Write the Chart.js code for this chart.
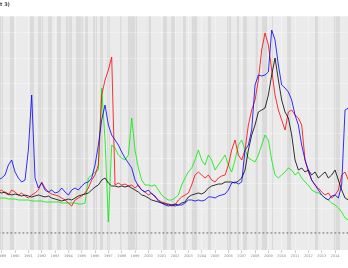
<!DOCTYPE html>
<html>
<head>
<meta charset="utf-8">
<script src="https://cdn.jsdelivr.net/npm/chart.js@4/dist/chart.umd.min.js"></script>
<style>
  body { margin: 0; background: #fff; }
  canvas { display: block; }
</style>
</head>
<body>
<canvas id="chart" width="348" height="268"></canvas>
<script>
// quarterly dates (decimal years)
var dates = [
  1988.75,
  1989, 1989.25, 1989.5, 1989.75, 1990, 1990.25, 1990.5, 1990.75,
  1991, 1991.25, 1991.5, 1991.75, 1992, 1992.25, 1992.5, 1992.75,
  1993, 1993.25, 1993.5, 1993.75, 1994, 1994.25, 1994.5, 1994.75,
  1995, 1995.25, 1995.5, 1995.75, 1996, 1996.25, 1996.5, 1996.75,
  1997, 1997.25, 1997.5, 1997.75, 1998, 1998.25, 1998.5, 1998.75,
  1999, 1999.25, 1999.5, 1999.75, 2000, 2000.25, 2000.5, 2000.75,
  2001, 2001.25, 2001.5, 2001.75, 2002, 2002.25, 2002.5, 2002.75,
  2003, 2003.25, 2003.5, 2003.75, 2004, 2004.25, 2004.5, 2004.75,
  2005, 2005.25, 2005.5, 2005.75, 2006, 2006.25, 2006.5, 2006.75,
  2007, 2007.25, 2007.5, 2007.75, 2008, 2008.25, 2008.5, 2008.75,
  2009, 2009.25, 2009.5, 2009.75, 2010, 2010.25, 2010.5, 2010.75,
  2011, 2011.25, 2011.5, 2011.75, 2012, 2012.25, 2012.5, 2012.75,
  2013, 2013.25, 2013.5, 2013.75, 2014, 2014.25, 2014.5, 2014.75,
  2015
];

var years = [
  1989, 1990, 1991, 1992, 1993, 1994, 1995, 1996, 1997, 1998, 1999, 2000, 2001,
  2002, 2003, 2004, 2005, 2006, 2007, 2008, 2009, 2010, 2011, 2012, 2013, 2014
];

var blueSeries = [
  53, 55, 58, 68, 73, 61, 55, 51, 53, 83, 138, 55,
  45, 50, 43, 41, 43, 40, 41, 45, 41, 38, 43, 45, 43, 47, 50, 51,
  55, 68, 88, 113, 128, 108, 98, 93, 88, 81, 75, 70, 65, 53, 47, 43,
  41, 43, 39, 37, 32, 30, 28, 27, 28, 27, 28, 28, 30, 33, 33, 32,
  33, 32, 33, 36, 36, 35, 37, 38, 39, 43, 50, 51, 49, 51, 83, 88,
  103, 148, 158, 157, 158, 161, 203, 193, 168, 148, 145, 141, 133, 118, 108, 88,
  73, 63, 53, 48, 43, 38, 35, 33, 37, 38, 35, 48, 123, 125
];

var redSeries = [
  41, 43, 40, 38, 43, 41, 38, 40, 37, 35, 38, 40,
  43, 51, 45, 41, 39, 38, 37, 35, 33, 30, 27, 33, 35, 37, 40, 45,
  53, 58, 68, 138, 153, 163, 176, 48, 50, 48, 49, 47, 48, 45, 48, 43,
  41, 38, 40, 36, 33, 31, 30, 28, 27, 28, 33, 36, 38, 40, 48, 58,
  61, 58, 55, 58, 53, 51, 55, 57, 58, 68, 83, 93, 78, 73, 83, 108,
  123, 133, 153, 183, 200, 188, 163, 138, 123, 113, 103, 121, 123, 118, 115, 108,
  73, 61, 53, 48, 45, 41, 38, 40, 35, 38, 43, 58, 61, 53
];

var blackSeries = [
  41, 40, 41, 39, 38, 39, 38, 37, 38, 37, 36, 37,
  38, 37, 36, 37, 35, 34, 33, 32, 33, 34, 33, 35, 37, 38, 39, 40,
  43, 46, 48, 53, 55, 50, 47, 47, 46, 47, 46, 47, 45, 43, 41, 38,
  37, 35, 33, 32, 31, 30, 29, 29, 28, 29, 28, 30, 31, 36, 38, 39,
  40, 39, 41, 45, 47, 48, 49, 49, 51, 51, 51, 50, 52, 55, 63, 83,
  98, 108, 121, 123, 125, 138, 158, 175, 153, 133, 121, 115, 98, 73, 63, 65,
  61, 63, 58, 61, 55, 58, 61, 55, 58, 63, 53, 43, 35, 33
];

var greenSeries = [
  35, 35, 35, 34, 34, 34, 33, 33, 33, 33, 32, 32,
  32, 32, 31, 31, 31, 31, 31, 30, 30, 30, 30, 30, 29, 29, 30, 55,
  58, 61, 63, 145, 93, 11, 88, 85, 78, 75, 73, 78, 115, 83, 65, 53,
  48, 48, 47, 48, 43, 38, 35, 33, 33, 35, 38, 48, 55, 61, 65, 73,
  83, 73, 68, 78, 73, 63, 68, 73, 78, 68, 61, 73, 88, 93, 83, 75,
  73, 71, 78, 88, 98, 93, 73, 58, 55, 58, 61, 65, 63, 58, 61, 55,
  51, 48, 43, 41, 40, 38, 35, 33, 30, 28, 25, 21, 15, 13
];

// shaded periods (decimal years)
var darkBands = [
  [1988.87, 1989.10], [1989.62, 1989.92], [1991.12, 1991.42], [1991.72, 1992.10],
  [1992.47, 1992.77], [1993.15, 1993.45], [1993.82, 1994.27], [1994.57, 1995.10],
  [1995.25, 1995.47], [1995.85, 1996.15], [1996.37, 1996.60], [1996.90, 1997.12],
  [1997.87, 1998.02], [1998.47, 1999.15], [1999.97, 2000.20], [2001.10, 2001.40],
  [2001.70, 2002.00], [2002.60, 2002.82], [2003.27, 2003.65], [2004.47, 2004.70],
  [2005.90, 2006.20], [2006.65, 2006.80], [2007.10, 2007.40], [2008.00, 2008.22],
  [2008.52, 2008.90], [2009.27, 2009.35], [2010.40, 2010.70], [2012.50, 2012.72],
  [2013.92, 2014.37]
];

var baseline = 0;

function pairs(values) {
  return values.map(function(v, i) { return { x: dates[i], y: v }; });
}

// fond gris + bandes
var bandsPlugin = {
  id: 'bands',
  beforeDraw: function(chart) {
    var ctx = chart.ctx, area = chart.chartArea, xs = chart.scales.x;
    ctx.save();
    ctx.fillStyle = '#ebebeb';
    ctx.fillRect(area.left, area.top, area.right - area.left, area.bottom - area.top);
    ctx.fillStyle = '#dadada';
    darkBands.forEach(function(b) {
      var x0 = Math.max(area.left, xs.getPixelForValue(b[0]));
      var x1 = Math.min(area.right, xs.getPixelForValue(b[1]));
      ctx.fillRect(x0, area.top, x1 - x0, area.bottom - area.top);
    });
    ctx.restore();
  }
};

var ctx = document.getElementById('chart').getContext('2d');
new Chart(ctx, {
  type: 'line',
  data: {
    datasets: [
      { data: pairs(blueSeries), borderColor: '#0000ff', borderWidth: 0.8, order: 1 },
      { data: pairs(blackSeries), borderColor: '#000000', borderWidth: 0.8, order: 2 },
      { data: pairs(redSeries), borderColor: '#ff0000', borderWidth: 0.8, order: 3 },
      { data: pairs(greenSeries), borderColor: '#00ee00', borderWidth: 0.8, order: 4 },
      {
        data: [{ x: dates[0], y: baseline }, { x: dates[dates.length - 1], y: baseline }],
        borderColor: '#333333', borderWidth: 0.7, borderDash: [2, 2], order: 0
      }
    ]
  },
  options: {
    responsive: false,
    animation: false,
    devicePixelRatio: 1,
    layout: { padding: 0 },
    elements: { point: { radius: 0 }, line: { tension: 0 } },
    plugins: {
      legend: { display: false },
      tooltip: { enabled: false },
      title: {
        display: true,
        text: 't 3)',
        align: 'start',
        color: '#444444',
        font: { family: 'DejaVu Sans', size: 5 },
        padding: { top: 2, bottom: 8 }
      }
    },
    scales: {
      x: {
        type: 'linear',
        min: 1988.8725,
        max: 2014.9725,
        afterBuildTicks: function(scale) {
          scale.ticks = years.map(function(y) { return { value: y }; });
        },
        afterFit: function(scale) {
          scale.height = 18;
          scale.paddingLeft = 0;
          scale.paddingRight = 0;
        },
        grid: { color: 'rgba(255,255,255,0.6)', lineWidth: 0.5, tickLength: 3, tickColor: '#999999' },
        border: { display: false },
        ticks: {
          autoSkip: false,
          maxRotation: 0,
          padding: 1,
          color: '#888888',
          font: { family: 'DejaVu Sans', size: 3.5 },
          callback: function(v) { return String(v); }
        }
      },
      y: {
        min: -17,
        max: 217,
        afterFit: function(scale) { scale.width = 0; },
        grid: { color: 'rgba(255,255,255,0.6)', lineWidth: 0.5, drawTicks: false },
        border: { display: false },
        ticks: { display: false, stepSize: 25 }
      }
    }
  },
  plugins: [bandsPlugin]
});
</script>
</body>
</html>
